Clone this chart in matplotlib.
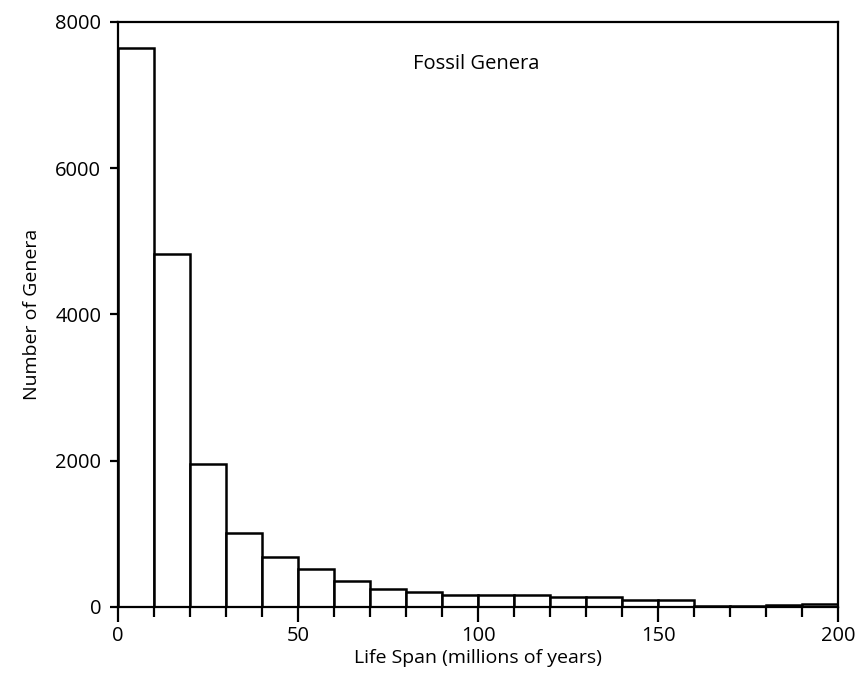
import matplotlib
matplotlib.use("Agg")
from matplotlib import pyplot as plt
from matplotlib.ticker import MultipleLocator
import numpy as np

# histogram of genus life spans, 10 Myr bins
bin_edges = list(range(0, 210, 10))
genera_counts = [7650, 4830, 1950, 1010, 690, 520, 360, 250, 200, 170,
                 170, 170, 130, 130, 90, 90, 15, 15, 30, 35]
x_ticks = [0, 50, 100, 150, 200]
y_ticks = [0, 2000, 4000, 6000, 8000]

plt.rcParams['font.family'] = ['Open Sans', 'DejaVu Sans']

fig = plt.figure(figsize=(8.58, 6.85), dpi=100)
ax = fig.add_axes([0.1375, 0.1139, 0.8392, 0.854])

lefts = np.array(bin_edges[:-1])
widths = np.diff(bin_edges)
ax.bar(lefts, genera_counts, width=widths, align='edge',
       facecolor='white', edgecolor='black', linewidth=1.8)

ax.set_xlim(0, 200)
ax.set_ylim(0, 8000)
ax.set_xticks(x_ticks)
ax.set_yticks(y_ticks)
ax.xaxis.set_minor_locator(MultipleLocator(10))

for side in ax.spines.values():
    side.set_linewidth(1.6)

ax.tick_params(axis='x', which='major', direction='out', length=11, width=1.6,
               labelsize=14.5, pad=3)
ax.tick_params(axis='x', which='minor', direction='out', length=7, width=1.6)
ax.tick_params(axis='y', which='major', direction='out', length=6, width=1.6,
               labelsize=14.5, pad=6)

ax.set_xlabel('Life Span (millions of years)', fontsize=14, labelpad=2)
ax.set_ylabel('Number of Genera', fontsize=14, labelpad=10)

ax.text(99.5, 7430, 'Fossil Genera', fontsize=14.5, ha='center', va='center')

plt.savefig('out.png', dpi=100)
